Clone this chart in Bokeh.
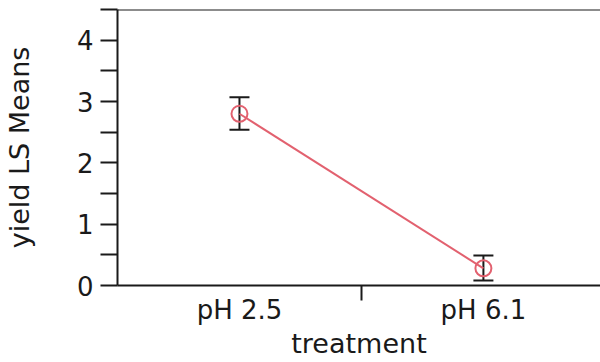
from bokeh.plotting import figure
from bokeh.models import ColumnDataSource, Range1d, FixedTicker, Whisker, TeeHead, Span
from bokeh.embed import file_html
from bokeh.resources import INLINE

treatments = ["pH 2.5", "pH 6.1"]
ls_means = [2.80, 0.28]
upper_ci = [3.07, 0.49]
lower_ci = [2.54, 0.08]

xs = [i + 0.5 for i in range(len(treatments))]
src = ColumnDataSource(dict(x=xs, mean=ls_means, upper=upper_ci, lower=lower_ci))

FONT = "DejaVu Sans"
INK = "#1a1a1a"
RED = "#e2616f"

p = figure(width=600, height=362, output_backend="svg", toolbar_location=None,
           x_range=Range1d(0, 1.98), y_range=Range1d(0, 4.5),
           min_border_left=117, min_border_right=0, min_border_top=9, min_border_bottom=77)
p.outline_line_color = None
p.grid.visible = False
p.background_fill_color = "white"
p.border_fill_color = "white"

# x axis
p.xaxis.ticker = FixedTicker(ticks=xs, minor_ticks=[1.0])
p.xaxis.major_label_overrides = {x: t for x, t in zip(xs, treatments)}
p.xaxis.major_tick_out = 0
p.xaxis.major_tick_in = 0
p.xaxis.minor_tick_out = 15
p.xaxis.minor_tick_in = 0
p.xaxis.minor_tick_line_width = 2
p.xaxis.minor_tick_line_color = INK
p.xaxis.axis_line_width = 2
p.xaxis.axis_line_color = INK
p.xaxis.axis_label = "treatment"
p.xaxis.major_label_text_font = FONT
p.xaxis.major_label_text_font_size = "26px"
p.xaxis.major_label_text_color = INK
p.xaxis.major_label_standoff = -6
p.xaxis.axis_label_text_font = FONT
p.xaxis.axis_label_text_font_size = "27px"
p.xaxis.axis_label_text_font_style = "normal"
p.xaxis.axis_label_text_color = INK
p.xaxis.axis_label_standoff = 0

# y axis
p.yaxis.ticker = FixedTicker(ticks=[0, 1, 2, 3, 4], minor_ticks=[0.5, 1.5, 2.5, 3.5, 4.5])
p.yaxis.major_tick_out = 17
p.yaxis.major_tick_in = 0
p.yaxis.minor_tick_out = 17
p.yaxis.minor_tick_in = 0
p.yaxis.major_tick_line_width = 2
p.yaxis.minor_tick_line_width = 2
p.yaxis.major_tick_line_color = INK
p.yaxis.minor_tick_line_color = INK
p.yaxis.axis_line_width = 2
p.yaxis.axis_line_color = INK
p.yaxis.axis_label = "yield LS Means"
p.yaxis.major_label_text_font = FONT
p.yaxis.major_label_text_font_size = "26px"
p.yaxis.major_label_text_color = INK
p.yaxis.major_label_standoff = 7
p.yaxis.axis_label_text_font = FONT
p.yaxis.axis_label_text_font_size = "27px"
p.yaxis.axis_label_text_font_style = "normal"
p.yaxis.axis_label_text_color = INK
p.yaxis.axis_label_standoff = 39

# top border
p.add_layout(Span(location=4.5, dimension="width", line_color=INK, line_width=2))

# mean line
p.line("x", "mean", source=src, line_color=RED, line_width=2)

# error bars
w = Whisker(source=src, base="x", upper="upper", lower="lower", dimension="height",
            line_color=INK, line_width=2,
            upper_head=TeeHead(size=20, line_color=INK, line_width=2),
            lower_head=TeeHead(size=20, line_color=INK, line_width=2))
p.add_layout(w)

# means markers
p.scatter("x", "mean", source=src, marker="circle", size=16, fill_color=None,
          line_color=RED, line_width=2)

open("out.html", "w").write(file_html(p, INLINE))
